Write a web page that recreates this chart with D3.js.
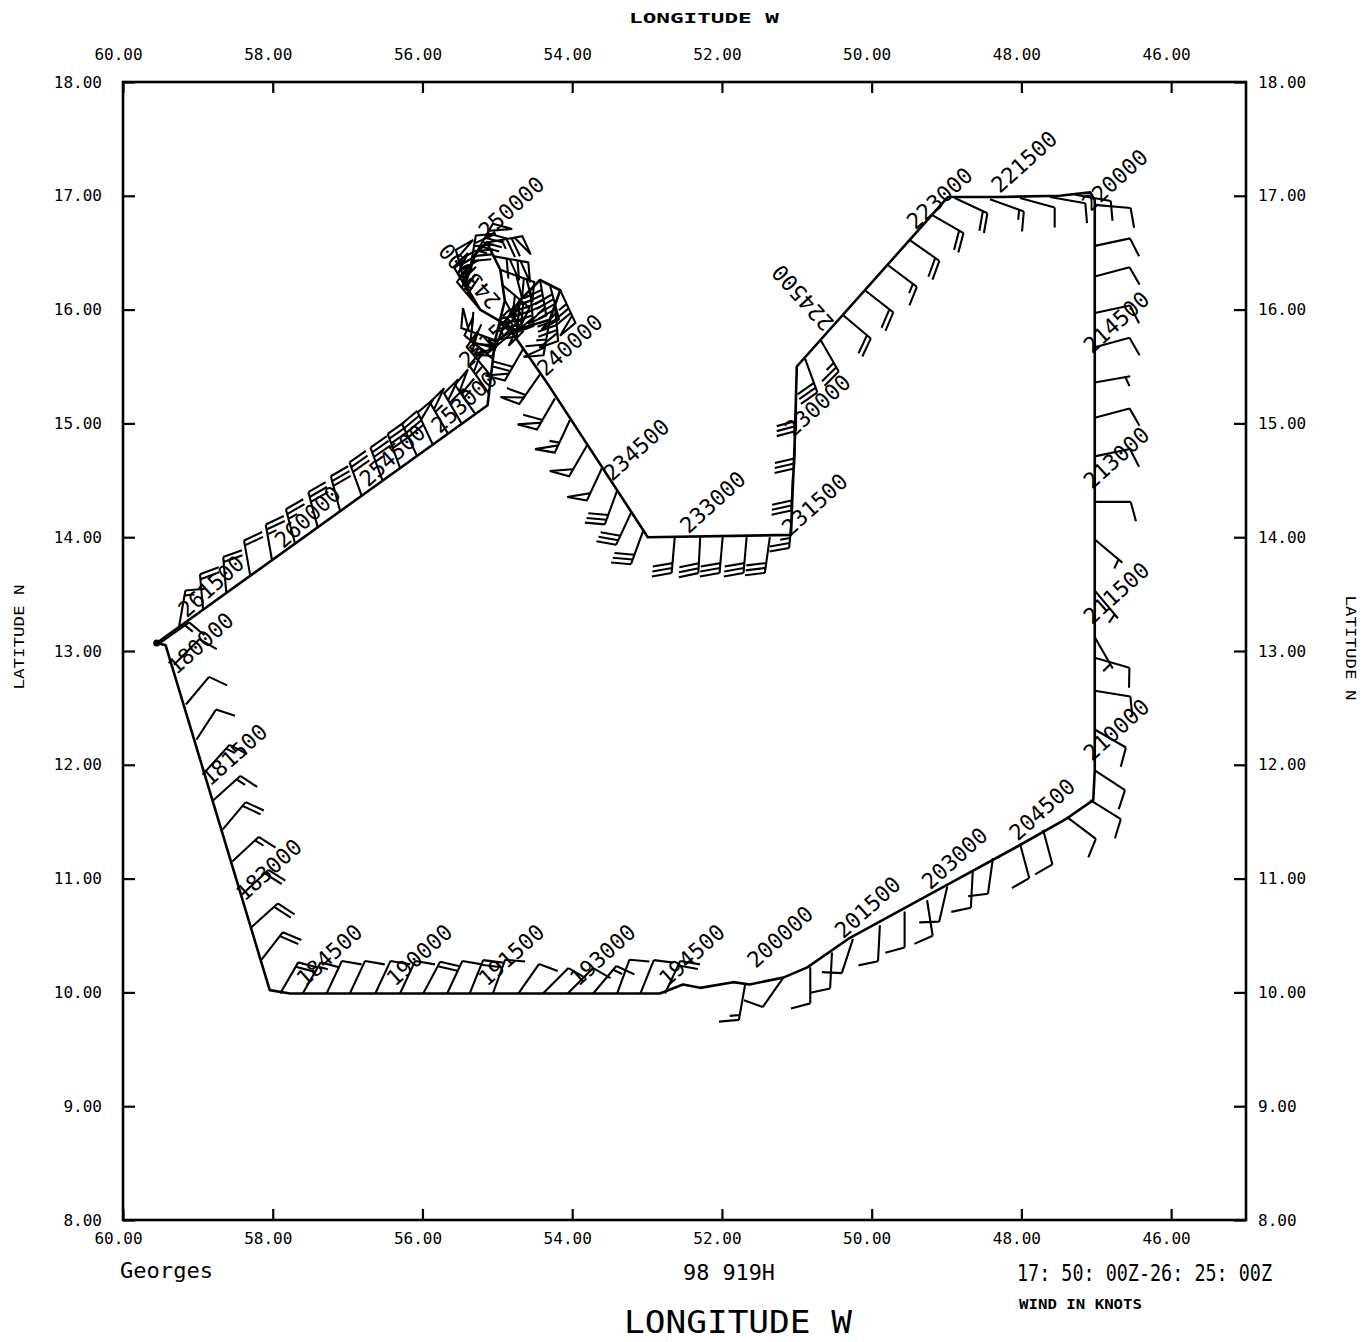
<!DOCTYPE html>
<html><head><meta charset="utf-8">
<script src="https://cdn.jsdelivr.net/npm/d3@7"></script>
<style>
body{margin:0;background:#fff}
text{font-family:"DejaVu Sans Mono",monospace;fill:#000}
</style>
</head><body>
<svg id="c" width="1367" height="1342"></svg>
<script>
// ---------------- DATA ----------------
const xTickValues = [60,58,56,54,52,50,48,46];
const yTickValues = [18,17,16,15,14,13,12,11,10,9,8];

// flight track (longitude W, latitude N)
const trackLon = [59.55,59.43,58.04,57.77,52.83,52.52,52.29,51.85,51.63,51.18,50.86,50.29,48.95,48.06,47.39,47.04,47.02,47.02,47.08,47.49,48.29,48.98,51.00,51.03,51.08,52.99,54.36,54.90,54.70,54.43,54.16,54.30,54.76,55.23,55.43,55.30,55.14,54.96,54.90,55.03,55.13,59.55];
const trackLat = [13.07,13.05,10.02,9.99,9.99,10.07,10.04,10.09,10.07,10.13,10.22,10.48,10.96,11.28,11.53,11.69,11.95,16.96,17.03,17.00,16.99,16.99,15.50,14.80,14.02,14.00,15.38,15.89,16.08,16.26,16.17,15.91,15.82,16.00,16.22,16.48,16.59,16.35,16.08,15.73,15.16,13.07];

// wind barbs per leg: [lon, lat, direction from (deg), speed (kt)]
const barbsLegA = [[59.51,13.07,55,15],[59.32,12.88,45,10],[59.16,12.53,40,10],[59.02,12.22,33,10],[58.90,11.94,42,15],[58.79,11.69,48,15],[58.67,11.43,40,20],[58.54,11.15,47,15],[58.41,10.86,47,20],[58.29,10.57,48,20],[58.16,10.28,38,20]];
const barbsSouth = [[57.90,9.99,30,20],[57.60,9.99,30,15],[57.28,9.99,25,10],[56.97,9.99,25,10],[56.63,9.99,25,10],[56.30,9.99,25,10],[55.99,9.99,28,20],[55.67,9.99,25,10],[55.37,9.99,22,20],[55.06,9.99,20,10],[54.72,9.99,35,10],[54.39,9.99,45,10],[54.06,9.99,45,10],[53.72,9.99,40,15],[53.40,9.99,20,10],[53.09,9.99,22,10],[52.76,9.99,25,20],[51.69,10.07,190,15],[51.18,10.13,215,10]];
const barbsSouthEast = [[50.82,10.22,180,10],[50.53,10.35,183,10],[50.25,10.47,198,10],[49.89,10.59,183,10],[49.56,10.71,180,10],[49.26,10.81,171,10],[48.99,10.93,193,10],[48.65,11.06,183,10],[48.38,11.18,188,10],[48.02,11.31,165,10],[47.71,11.43,165,10],[47.39,11.54,127,10],[47.08,11.69,122,10],[47.02,11.95,123,10]];
const barbsEast = [[47.02,16.92,95,10],[47.02,16.56,78,10],[47.02,16.29,75,10],[47.02,15.97,78,10],[47.02,15.67,75,10],[47.02,15.36,80,5],[47.02,15.05,75,10],[47.02,14.71,78,10],[47.02,14.31,90,10],[47.02,13.98,130,5],[47.02,13.53,140,5],[47.02,13.12,150,5],[47.02,12.94,106,10],[47.02,12.65,99,10],[47.02,12.31,120,10]];
const barbsNorth = [[48.89,16.98,115,20],[48.42,16.97,110,15],[48.02,16.98,105,10],[47.62,16.99,100,10],[47.28,17.01,100,10]];
const barbsNorthEast = [[49.19,16.83,120,20],[49.49,16.61,125,20],[49.78,16.39,127,15],[50.09,16.17,128,20],[50.38,15.95,130,20],[50.68,15.73,150,25],[50.89,15.57,160,30]];
const barbsInbound = [[51.01,15.25,180,30],[51.02,14.92,182,30],[51.05,14.55,183,30],[51.06,14.22,185,25],[51.36,14.00,188,30],[51.67,14.00,185,30],[51.99,14.00,185,30],[52.29,14.00,183,30],[52.63,14.00,185,30]];
const barbsCore = [[53.05,14.06,200,30],[53.21,14.22,205,30],[53.40,14.41,200,30],[53.60,14.61,205,50],[53.80,14.81,210,50],[54.03,15.03,205,55],[54.23,15.22,210,60],[54.43,15.43,215,60],[54.66,15.65,210,70],[54.90,15.89,200,65],[54.70,16.08,185,80],[54.43,16.26,170,90],[54.16,16.17,155,75],[54.30,15.91,190,65],[54.76,15.82,230,55],[55.23,16.00,320,70],[55.43,16.22,345,85],[55.30,16.48,30,95],[55.14,16.59,80,75],[54.96,16.35,110,100],[54.90,16.08,150,85],[55.03,15.73,290,60],[55.10,15.43,320,55]];
const barbsEyewall = [[55.06,16.47,100,110],[54.94,16.22,130,100],[54.56,16.17,175,95],[54.30,16.22,165,90],[54.23,16.04,175,80],[55.34,16.10,330,75],[55.37,16.34,10,90],[55.07,15.57,310,60],[55.10,15.25,325,55]];
const barbsOutbound = [[59.25,13.22,10,15],[58.93,13.36,355,20],[58.62,13.51,355,20],[58.30,13.66,350,20],[58.01,13.80,350,25],[57.70,13.94,345,25],[57.40,14.09,345,30],[57.10,14.23,345,30],[56.81,14.36,340,30],[56.53,14.49,340,35],[56.30,14.61,340,40],[56.07,14.71,335,40],[55.86,14.81,335,50],[55.66,14.91,330,55],[55.47,14.99,330,60],[55.29,15.08,325,65]];

// time labels (HHMMSS, hours past 00Z of day 1)
const labelTimes = ["180000","181500","183000","184500","190000","191500","193000","194500","200000","201500","203000","204500","210000","211500","213000","214500","220000","221500","223000","224500","230000","231500","233000","234500","240000","243000","250000","251500","253000","254500","260000","261500"];
const labelLon = [59.29,58.84,58.38,57.57,56.37,55.14,53.92,52.73,51.55,50.38,49.22,48.05,47.06,47.06,47.06,47.06,47.08,48.29,49.42,50.45,51.05,51.09,52.45,53.47,54.36,54.90,55.14,55.40,55.77,56.73,57.86,59.15];
const labelLat = [12.76,11.78,10.77,10.02,10.02,10.02,10.02,10.02,10.18,10.44,10.87,11.30,12.00,13.20,14.39,15.58,16.83,16.99,16.67,15.89,14.85,13.98,14.00,14.46,15.38,16.08,16.59,15.45,14.88,14.41,13.87,13.26];
const labelRot = [-42,-42,-42,-42,-42,-42,-42,-42,-42,-42,-42,-42,-42,-42,-42,-42,-42,-42,-42,-132,-42,-42,-42,-42,-42,-132,-42,-42,-42,-42,-42,-42];

// ---------------- CHART ----------------
const svg = d3.select("#c");
svg.append("rect").attr("width",1367).attr("height",1342).attr("fill","#fff");
const x = d3.scaleLinear().domain([60,45]).range([123,1246]);
const y = d3.scaleLinear().domain([8,18]).range([1220,82]);
const fmt = d3.format(".2f");

function styleAxis(g){
  g.select(".domain").remove();
  g.selectAll(".tick line").attr("stroke","#000").attr("stroke-width",2.2);
  g.selectAll(".tick text").attr("font-size",16).attr("fill","#000")
   .attr("font-family","DejaVu Sans Mono");
}
// top
svg.append("g").attr("transform",`translate(0,${y(18)})`)
  .call(d3.axisTop(x).tickValues(xTickValues).tickSize(-11).tickSizeOuter(0).tickPadding(22).tickFormat(fmt))
  .call(styleAxis).call(g=>g.selectAll(".tick text").attr("dx",-5));
// bottom
svg.append("g").attr("transform",`translate(0,${y(8)})`)
  .call(d3.axisBottom(x).tickValues(xTickValues).tickSize(-11).tickSizeOuter(0).tickPadding(13).tickFormat(fmt))
  .call(styleAxis).call(g=>g.selectAll(".tick text").attr("dx",-5));
// left
svg.append("g").attr("transform",`translate(${x(60)},0)`)
  .call(d3.axisLeft(y).tickValues(yTickValues).tickSize(-12).tickSizeOuter(0).tickPadding(21).tickFormat(fmt))
  .call(styleAxis);
// right
svg.append("g").attr("transform",`translate(${x(45)},0)`)
  .call(d3.axisRight(y).tickValues(yTickValues).tickSize(-12).tickSizeOuter(0).tickPadding(12).tickFormat(fmt))
  .call(styleAxis);

// frame
svg.append("rect").attr("x",x(60)).attr("y",y(18))
  .attr("width",x(45)-x(60)).attr("height",y(8)-y(18))
  .attr("fill","none").attr("stroke","#000").attr("stroke-width",2.6);

// track
const trackPts = trackLon.map((d,i)=>[d,trackLat[i]]);
svg.append("path").datum(trackPts)
  .attr("d", d3.line().x(d=>x(d[0])).y(d=>y(d[1])))
  .attr("fill","none").attr("stroke","#000").attr("stroke-width",2.6)
  .attr("stroke-linejoin","round");
svg.append("circle").attr("cx",x(trackLon[0])).attr("cy",y(trackLat[0])).attr("r",3.5).attr("fill","#000");

// wind barbs
const STAFF = 36, BARB = 20, GAP = 5, PEN = 8, ROT = 75*Math.PI/180;
function barbPath(b){
  const bx = x(b[0]), by = y(b[1]);
  const a = b[2]*Math.PI/180;
  const ux = Math.sin(a), uy = -Math.cos(a);
  const vx = ux*Math.cos(ROT) - uy*Math.sin(ROT), vy = ux*Math.sin(ROT) + uy*Math.cos(ROT);
  const tx = bx + STAFF*ux, ty = by + STAFF*uy;
  let p = `M${bx},${by}L${tx},${ty}`;
  let s = Math.round(b[3]/5)*5;
  const n50 = Math.floor(s/50); s -= n50*50;
  const n10 = Math.floor(s/10); s -= n10*10;
  const n5 = s >= 5 ? 1 : 0;
  let pos = 0;
  for(let k=0;k<n50;k++){
    const qx = tx - pos*ux, qy = ty - pos*uy;
    p += `M${qx},${qy}L${qx+BARB*vx},${qy+BARB*vy}L${qx-PEN*ux},${qy-PEN*uy}Z`;
    pos += PEN + 3;
  }
  for(let k=0;k<n10;k++){
    const qx = tx - pos*ux, qy = ty - pos*uy;
    p += `M${qx},${qy}L${qx+BARB*vx},${qy+BARB*vy}`;
    pos += GAP;
  }
  if(n5){
    if(pos===0) pos = GAP;
    const qx = tx - pos*ux, qy = ty - pos*uy;
    p += `M${qx},${qy}L${qx+BARB*0.5*vx},${qy+BARB*0.5*vy}`;
  }
  return p;
}
const legs = [barbsLegA, barbsSouth, barbsSouthEast, barbsEast, barbsNorth, barbsNorthEast, barbsInbound, barbsCore, barbsEyewall, barbsOutbound];
const gb = svg.append("g").attr("fill","none").attr("stroke","#000").attr("stroke-width",2.1)
  .attr("stroke-linejoin","miter");
legs.forEach(leg=>{
  gb.append("g").selectAll("path").data(leg).join("path").attr("d",barbPath);
});

// time labels
svg.append("g").selectAll("text").data(labelTimes).join("text")
  .attr("transform",(d,i)=>`translate(${x(labelLon[i])},${y(labelLat[i])}) rotate(${labelRot[i]})`)
  .attr("x",2).attr("y",-2)
  .attr("font-size",22)
  .text(d=>d);

// titles
svg.append("text").attr("x",704).attr("y",23).attr("text-anchor","middle")
  .attr("font-size",14).attr("font-weight","bold").attr("textLength",150).attr("lengthAdjust","spacingAndGlyphs")
  .text("LONGITUDE  W");
svg.append("text").attr("transform","translate(24,637) rotate(-90)").attr("text-anchor","middle")
  .attr("font-size",14).attr("textLength",105).attr("lengthAdjust","spacingAndGlyphs")
  .text("LATITUDE  N");
svg.append("text").attr("transform","translate(1346,648) rotate(90)").attr("text-anchor","middle")
  .attr("font-size",14).attr("textLength",105).attr("lengthAdjust","spacingAndGlyphs")
  .text("LATITUDE  N");
svg.append("text").attr("x",120).attr("y",1278).attr("font-size",22)
  .attr("textLength",93).attr("lengthAdjust","spacingAndGlyphs").text("Georges");
svg.append("text").attr("x",683).attr("y",1280).attr("font-size",22)
  .attr("textLength",92).attr("lengthAdjust","spacingAndGlyphs").text("98 919H");
svg.append("text").attr("x",1017).attr("y",1281).attr("font-size",23)
  .attr("textLength",255).attr("lengthAdjust","spacingAndGlyphs").text("17: 50: 00Z-26: 25: 00Z");
svg.append("text").attr("x",1019).attr("y",1309).attr("font-size",14).attr("font-weight","bold")
  .attr("textLength",123).attr("lengthAdjust","spacingAndGlyphs").text("WIND IN KNOTS");
svg.append("text").attr("x",624).attr("y",1333).attr("font-size",32)
  .attr("textLength",228).attr("lengthAdjust","spacingAndGlyphs").text("LONGITUDE  W");
</script>
</body></html>
